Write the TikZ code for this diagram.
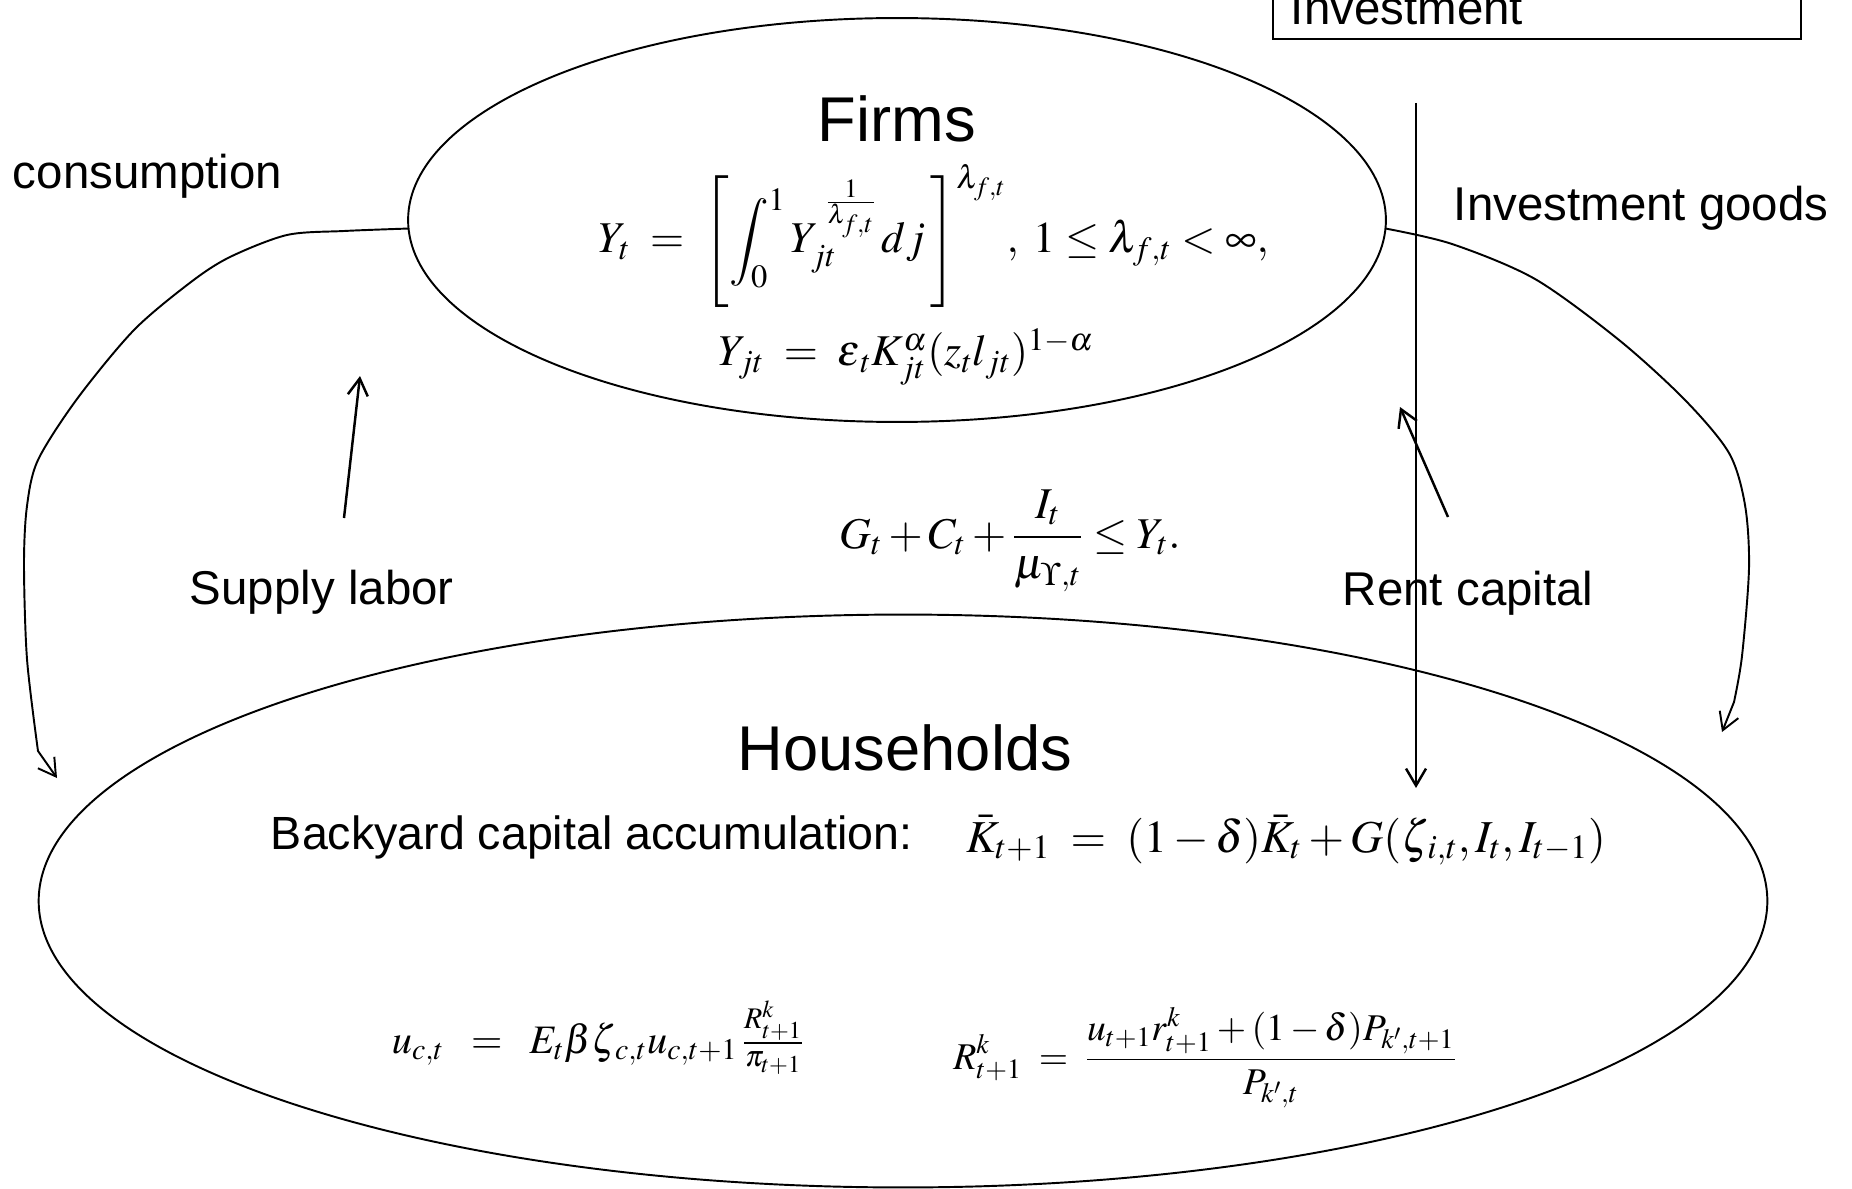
\documentclass[tikz,border=0pt]{standalone}
\usepackage{mathptmx}
\usepackage[no-math]{fontspec}
\setmainfont{Liberation Sans}
\usetikzlibrary{shapes.geometric,arrows.meta}
\begin{document}
\begin{tikzpicture}[x=0.02cm,y=-0.02cm,line width=1.1pt,
  lbl/.style={font=\fontsize{27}{32}\selectfont, inner sep=0, anchor=base west},
  ttl/.style={font=\fontsize{36}{43}\selectfont, inner sep=0, anchor=base},
  eqA/.style={font=\fontsize{25}{30}\selectfont, inner sep=0, anchor=base},
  eqK/.style={font=\fontsize{26}{31}\selectfont, inner sep=0, anchor=base},
  eqU/.style={font=\fontsize{23}{28}\selectfont, inner sep=0, anchor=base},
  eqR/.style={font=\fontsize{21.5}{26}\selectfont, inner sep=0, anchor=base},
  oval/.style={draw, ellipse, inner sep=0, outer sep=0},
  arr/.style={-{Straight Barb[length=0.34cm,width=0.4cm]}, line width=1.4pt},
  arc/.style={-{Straight Barb[length=0.34cm,width=0.4cm]}, line width=1.1pt}]
\clip (0,0) rectangle (1852,1189);
\fill[white] (0,0) rectangle (1852,1189);
% ellipses
\node[oval, minimum width=19.56cm, minimum height=8.08cm] (firms) at (897,220) {};
\node[oval, minimum width=34.58cm, minimum height=11.46cm] (hh) at (903,901) {};
% box at top right
\node[draw, line width=1.2pt, anchor=south west, minimum width=10.56cm, minimum height=3cm, inner sep=0] (box) at (1272,40) {};
\node[lbl] (inv) at (1290,25) {Investment};
% titles
\node[ttl] (firmsT) at (897,142) {Firms};
\node[ttl] (hhT) at (905,770) {Households};
% labels
\node[lbl] (cons) at (12,189) {consumption};
\node[lbl] (supp) at (189,604) {Supply labor};
\node[lbl] (rent) at (1342,605) {Rent capital};
\node[lbl] (invg) at (1453,221) {Investment goods};
\node[lbl, font=\fontsize{26.5}{32}\selectfont] (back) at (270,849) {Backyard capital accumulation:};
% formulas
\node[eqA] (f1) at (934,253) {$\displaystyle Y_t \;=\; \left[\int_0^1 Y_{jt}^{\;\frac{1}{\lambda_{f,t}}}\,dj\,\right]^{\lambda_{f,t}}\!,\;1\le\lambda_{f,t}<\infty,$};
\node[eqA] (f2) at (906,366) {$Y_{jt} \;=\; \epsilon_{\,t} K_{jt}^{\alpha}(z_t l_{jt})^{1-\alpha}$};
\node[eqA] (res) at (1010,548) {$\displaystyle G_t + C_t + \frac{I_t}{\mu_{\Upsilon,t}} \le Y_t.$};
\node[eqK] (kbar) at (1286,852) {$\bar K_{t+1} \;=\; (1-\delta)\bar K_t + G(\zeta_{\,i,t}, I_t, I_{t-1})$};
\node[eqU] (euler) at (598,1053) {$u_{c,t} \;\;=\;\; E_t\beta\zeta_{\,c,t}u_{c,t+1}\,{\textstyle\frac{R^k_{t+1}}{\pi_{t+1}}}$};
\node[eqR] (rk) at (1205,1069) {$\displaystyle R^k_{t+1} \;=\; \frac{u_{t+1}r^k_{t+1}+(1-\delta)P_{k',t+1}}{P_{k',t}}$};
% connector end points
\coordinate (consEnd) at (57,778);
\coordinate (invEnd) at (1722,732);
\coordinate (vTop) at (1416,103);
\coordinate (vBot) at (1416,788);
\coordinate (slS) at (344,518);
\coordinate (slE) at (360,376);
\coordinate (rcS) at (1448,517);
\coordinate (rcE) at (1400,407);
% consumption arc
\draw[arc] plot[smooth, tension=0.5] coordinates {(firms.181) (344,231) (287,235) (230,257) (191,282) (134,330) (77,399) (38,460) (27,506) (24,564) (27,659) (38,751)} -- (consEnd);
% investment goods arc
\draw[arc] plot[smooth, tension=0.5] coordinates {(firms.359.3) (1452,244) (1535,279) (1619,340) (1685,400) (1729,453) (1745,505) (1749,568) (1742,656) (1734,702)} -- (invEnd);
% straight arrows
\draw[arr] (vTop) -- (vBot);
\draw[arr] (slS) -- (slE);
\draw[arr] (rcS) -- (rcE);
\end{tikzpicture}
\end{document}
